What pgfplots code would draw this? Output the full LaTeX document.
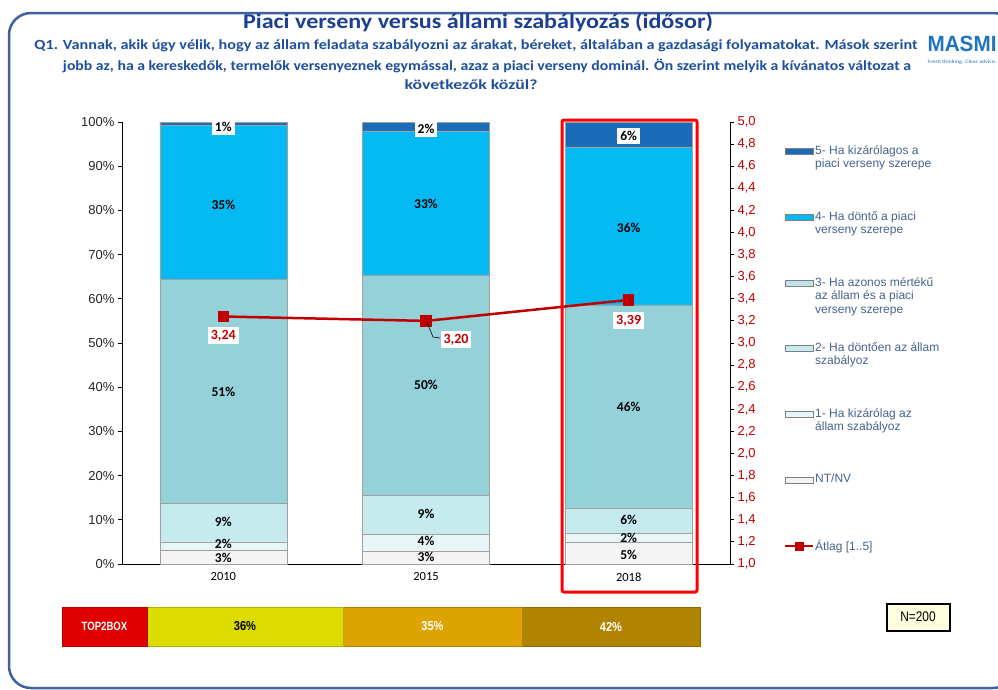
\documentclass[border=0pt]{standalone}
\usepackage{pgfplots}
\pgfplotsset{compat=1.18}
\usepackage{pgfplotstable}
\usepackage{fontspec}
\setmainfont{Liberation Sans}
\newfontfamily\calfont{Carlito}

\definecolor{cNT}{HTML}{F4F4F4}
\definecolor{cOne}{HTML}{E9F6F8}
\definecolor{cTwo}{HTML}{C6EBEF}
\definecolor{cThree}{HTML}{95D1D9}
\definecolor{cFour}{HTML}{05B9F2}
\definecolor{cFive}{HTML}{1A6CB8}
\definecolor{meanred}{HTML}{C00000}
\definecolor{legtext}{HTML}{44638F}
\definecolor{titleblue}{HTML}{1C3F94}
\definecolor{qblue}{HTML}{1E4F9C}
\definecolor{framec}{HTML}{3F619E}
\definecolor{edgegray}{HTML}{A0A0A0}
\definecolor{logoblue}{HTML}{1E74C0}
\definecolor{tRed}{HTML}{E00000}
\definecolor{tYellow}{HTML}{DCDC00}
\definecolor{tOrange}{HTML}{DDA300}
\definecolor{tBrown}{HTML}{B08300}
\definecolor{nfill}{HTML}{FFFFE0}

\pgfplotstableread{
x nt one two three four five
0 3.2 1.8 8.8 50.6 34.8 0.8
1 3.0 3.7 8.8 49.8 32.7 2.0
2 5.0 2.0 5.7 45.9 35.8 5.6
}\shares

\pgfplotstableread{
x y lab
0 1.3 3
0 4.5 2
0 9.5 9
0 38.9 51
0 81.2 35
1 1.6 3
1 5.2 4
1 11.3 9
1 40.5 50
1 81.4 33
2 2.0 5
2 5.9 2
2 10.0 6
2 35.5 46
2 76.0 36
}\seglabels

\pgfplotstableread{
x y lab
0 98.9 1
1 98.4 2
2 96.8 6
}\toplabels

\pgfplotstableread{
x mean dx dy
0 3.24 0 -19
1 3.20 30 -19
2 3.39 0 -21
}\means

\begin{document}
\begin{tikzpicture}
\useasboundingbox (0pt,0pt) rectangle (998pt,-689pt);

\begin{scope}[x=1pt,y=-1pt]
  \begin{scope}
    \clip (0,0) rectangle (998,689);
    \draw[framec, line width=2.5pt, rounded corners=22pt] (9,13) rectangle (1015,688);
  \end{scope}
  \node[titleblue, inner sep=0pt] at (478,22) {\resizebox{470pt}{\height}{\calfont\bfseries\fontsize{21}{21}\selectfont Piaci verseny versus állami szabályozás (idősor)}};
  \node[qblue, inner sep=0pt] at (476,46) {\resizebox{883pt}{\height}{\calfont\bfseries\fontsize{14}{14}\selectfont Q1. Vannak, akik úgy vélik, hogy az állam feladata szabályozni az árakat, béreket, általában a gazdasági folyamatokat. Mások szerint}};
  \node[qblue, inner sep=0pt] at (487,66) {\resizebox{848pt}{\height}{\calfont\bfseries\fontsize{14}{14}\selectfont jobb az, ha a kereskedők, termelők versenyeznek egymással, azaz a piaci verseny dominál. Ön szerint melyik a kívánatos változat a}};
  \node[qblue, inner sep=0pt] at (471,85) {\resizebox{133pt}{\height}{\calfont\bfseries\fontsize{14}{14}\selectfont következők közül?}};
  \node[logoblue, inner sep=0pt] at (962,44) {\resizebox{69pt}{\height}{\bfseries\fontsize{22}{22}\selectfont MASMI}};
  \node[logoblue, inner sep=0pt] at (962,62) {\resizebox{69pt}{\height}{\calfont\fontsize{5}{5}\selectfont Fresh thinking. Clear advice.}};
\end{scope}

% ---------- main stacked bars (left axis) ----------
\begin{axis}[
  at={(122pt,-564pt)}, anchor=south west,
  width=608pt, height=442pt, scale only axis,
  xmin=-0.5, xmax=2.5, ymin=0, ymax=100,
  ybar stacked, bar width=127pt,
  axis x line*=bottom, axis y line*=left,
  axis line style={black, line width=0.9pt, -},
  xtick={0,1,2}, xticklabels={2010,2015,2018},
  x tick style={draw=none},
  x tick label style={font=\calfont\fontsize{12.5}{14}\selectfont, yshift=-1pt},
  ytick={0,10,...,100},
  yticklabel={\pgfmathprintnumber{\tick}\%},
  y tick label style={font=\fontsize{13}{15}\selectfont, text=black!85},
  y tick style={black, line width=0.9pt},
  tick align=outside, major tick length=4pt,
  /pgf/number format/assume math mode=true,
]
\addplot[fill=cNT, draw=edgegray] table[x=x,y=nt]{\shares};
\addplot[fill=cOne, draw=edgegray] table[x=x,y=one]{\shares};
\addplot[fill=cTwo, draw=edgegray] table[x=x,y=two]{\shares};
\addplot[fill=cThree, draw=edgegray] table[x=x,y=three]{\shares};
\addplot[fill=cFour, draw=edgegray] table[x=x,y=four]{\shares};
\addplot[fill=cFive, draw=edgegray] table[x=x,y=five]{\shares};
\end{axis}

% ---------- mean line (right axis) ----------
\begin{axis}[
  at={(122pt,-564pt)}, anchor=south west,
  width=608pt, height=442pt, scale only axis,
  xmin=-0.5, xmax=2.5, ymin=1, ymax=5,
  axis x line=none, axis y line*=right,
  axis line style={black, line width=0.9pt, -},
  ytick={1,1.2,1.4,1.6,1.8,2,2.2,2.4,2.6,2.8,3,3.2,3.4,3.6,3.8,4,4.2,4.4,4.6,4.8,5},
  y tick label style={font=\fontsize{13}{15}\selectfont, text=meanred,
    /pgf/number format/fixed, /pgf/number format/fixed zerofill,
    /pgf/number format/precision=1, /pgf/number format/use comma,
    /pgf/number format/assume math mode=true},
  y tick style={black, line width=0.9pt},
  tick align=outside, major tick length=4pt,
  clip=false,
]
\addplot[meanred, line width=2.5pt, mark=square*, mark size=4.5pt,
  point meta=y,
  nodes near coords={\pgfmathprintnumber[fixed,fixed zerofill,precision=2,use comma,assume math mode=true]{\pgfplotspointmeta}},
  visualization depends on={\thisrow{dx} \as \dx},
  visualization depends on={\thisrow{dy} \as \dy},
  every node near coord/.append style={anchor=center, xshift=\dx pt, yshift=\dy pt, fill=white, inner sep=3pt, text=meanred, font=\calfont\bfseries\fontsize{14}{16}\selectfont},
] table[x=x,y=mean]{\means};
\end{axis}

% ---------- segment labels ----------
\begin{axis}[
  at={(122pt,-564pt)}, anchor=south west,
  width=608pt, height=442pt, scale only axis,
  xmin=-0.5, xmax=2.5, ymin=0, ymax=100,
  hide axis, clip=false,
  /pgf/number format/assume math mode=true,
]
\addplot[draw=none, mark=none, point meta=explicit,
  nodes near coords={\pgfmathprintnumber{\pgfplotspointmeta}\%},
  every node near coord/.append style={anchor=center, font=\calfont\bfseries\fontsize{13.5}{15}\selectfont, text=black, inner sep=1pt}]
  table[x=x,y=y,meta=lab]{\seglabels};
\addplot[draw=none, mark=none, point meta=explicit,
  nodes near coords={\pgfmathprintnumber{\pgfplotspointmeta}\%},
  every node near coord/.append style={anchor=center, font=\calfont\bfseries\fontsize{13.5}{15}\selectfont, text=black, fill=white, inner sep=3pt}]
  table[x=x,y=y,meta=lab]{\toplabels};
\end{axis}

% ---------- TOP2BOX strip ----------
\begin{axis}[
  at={(62pt,-646pt)}, anchor=south west,
  width=638pt, height=39pt, scale only axis,
  xmin=0, xmax=638, ymin=-0.5, ymax=0.5,
  xbar stacked, bar width=39pt, hide axis, clip=false,
]
\addplot[fill=tRed, draw=tRed!80!black] coordinates {(85,0)};
\addplot[fill=tYellow, draw=tYellow!80!black] coordinates {(196,0)};
\addplot[fill=tOrange, draw=tOrange!80!black] coordinates {(179,0)};
\addplot[fill=tBrown, draw=tBrown!80!black] coordinates {(178,0)};
\end{axis}

\begin{scope}[x=1pt,y=-1pt]
  % TOP2BOX texts
  \node[white, font=\bfseries\fontsize{12}{12}\selectfont] at (104.5,626.5) {\scalebox{0.8}[1]{TOP2BOX}};
  \node[black, font=\bfseries\fontsize{13}{13}\selectfont] at (245,626.5) {\scalebox{0.85}[1]{36\%}};
  \node[white, font=\bfseries\fontsize{13}{13}\selectfont] at (432.5,626.5) {\scalebox{0.85}[1]{35\%}};
  \node[white, font=\bfseries\fontsize{13}{13}\selectfont] at (611,626.5) {\scalebox{0.85}[1]{42\%}};
  % leader line and highlight
  \draw[black, line width=0.6pt] (427,322) -- (433,337) -- (440,338);
  \draw[red, line width=3pt, rounded corners=2pt] (562,120) rectangle (697,592);
  \node[draw=black, line width=2pt, fill=nfill, minimum width=63pt, minimum height=27pt, inner sep=0pt, font=\fontsize{14}{14}\selectfont] at (918,617) {\scalebox{0.85}[1]{N=200}};
  % legend
  \begin{scope}[every node/.style={anchor=north west, inner sep=0pt, align=left, text=legtext, font=\fontsize{12}{13.7}\selectfont}]
    \filldraw[fill=cFive, draw=gray] (785,148) rectangle (813,154);
    \node at (815,145) {5- Ha kizárólagos a\\piaci verseny szerepe};
    \filldraw[fill=cFour, draw=gray] (785,214) rectangle (813,220);
    \node at (815,211) {4- Ha döntő a piaci\\verseny szerepe};
    \filldraw[fill=cThree!60!white, draw=gray] (785,280) rectangle (813,286);
    \node at (815,277) {3- Ha azonos mértékű\\az állam és a piaci\\verseny szerepe};
    \filldraw[fill=cTwo, draw=gray] (785,345) rectangle (813,351);
    \node at (815,342) {2- Ha döntően az állam\\szabályoz};
    \filldraw[fill=cOne, draw=gray] (785,411) rectangle (813,417);
    \node at (815,408) {1- Ha kizárólag az\\állam szabályoz};
    \filldraw[fill=cNT, draw=gray] (785,477) rectangle (813,483);
    \node at (815,474) {NT/NV};
    \draw[meanred, line width=2.5pt] (785,546) -- (813,546);
    \fill[meanred] (794.5,541.5) rectangle (803.5,550.5);
    \node at (815,540) {Átlag [1..5]};
  \end{scope}
\end{scope}
\end{tikzpicture}
\end{document}
